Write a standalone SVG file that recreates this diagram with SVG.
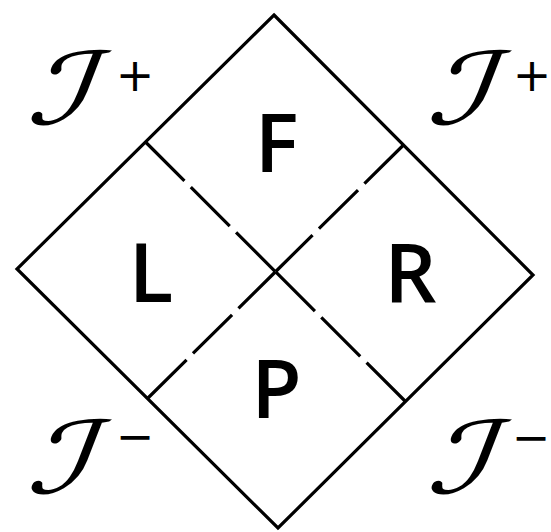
<svg xmlns="http://www.w3.org/2000/svg" width="551" height="532" viewBox="0 0 551 532">
<style>
.edge{fill:none;stroke:#000;stroke-width:3.2;stroke-linejoin:miter}
.dash{fill:none;stroke:#000;stroke-width:3.2;stroke-dasharray:55 9}
.reg{font-family:"Open Sans","DejaVu Sans",sans-serif;font-weight:600;font-size:82px;fill:#000;text-anchor:middle}
.scri{font-family:"DejaVu Serif","DejaVu Sans",serif;font-style:italic;font-size:100px;fill:#000;text-anchor:middle}
.sup{font-family:"DejaVu Sans",sans-serif;font-size:46px;fill:#000;text-anchor:middle}
</style>
<rect width="551" height="532" fill="#fff"/>
<g id="diamond">
<polygon class="edge" points="274,15 533,275 278,528 17,269"/>
</g>
<g id="connectors">
<line class="dash" x1="145.5" y1="142" x2="275.5" y2="271.75"/>
<line class="dash" x1="405.5" y1="401.5" x2="275.5" y2="271.75"/>
<line class="dash" x1="403.5" y1="145" x2="275.5" y2="271.75"/>
<line class="dash" x1="147.5" y1="398.5" x2="275.5" y2="271.75"/>
</g>
<g id="F"><text class="reg" x="276.5" y="172">F</text></g>
<g id="L"><text class="reg" x="151" y="302">L</text></g>
<g id="R"><text class="reg" x="410.5" y="302">R</text></g>
<g id="P"><text class="reg" x="276.5" y="418">P</text></g>
<g id="scri-plus-left"><text class="scri" transform="translate(57,124) scale(1.35,1) skewX(-16)">ℐ</text><text class="sup" x="135" y="91">+</text></g>
<g id="scri-plus-right"><text class="scri" transform="translate(457,124) scale(1.35,1) skewX(-16)">ℐ</text><text class="sup" x="532" y="91">+</text></g>
<g id="scri-minus-left"><text class="scri" transform="translate(57,493) scale(1.35,1) skewX(-16)">ℐ</text><text class="sup" x="135" y="452">−</text></g>
<g id="scri-minus-right"><text class="scri" transform="translate(457,493) scale(1.35,1) skewX(-16)">ℐ</text><text class="sup" x="531" y="453">−</text></g>
</svg>
